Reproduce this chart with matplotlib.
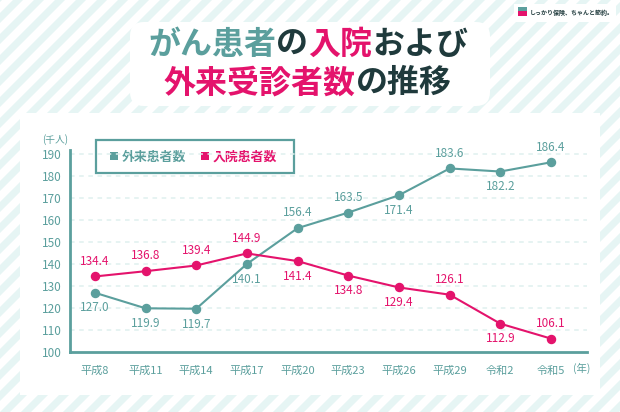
import numpy as np
import matplotlib
matplotlib.use("Agg")
import matplotlib.pyplot as plt
import matplotlib.patches as patch

plt.rcParams['font.family'] = ['Noto Sans CJK JP', 'DejaVu Sans']

years = ["平成8", "平成11", "平成14", "平成17", "平成20", "平成23",
         "平成26", "平成29", "令和2", "令和5"]
outpatient = [127.0, 119.9, 119.7, 140.1, 156.4, 163.5, 171.4, 183.6, 182.2, 186.4]
inpatient = [134.4, 136.8, 139.4, 144.9, 141.4, 134.8, 129.4, 126.1, 112.9, 106.1]
# label placement: +1 above the point, -1 below
out_pos = [-1, -1, -1, -1, 1, 1, -1, 1, -1, 1]
in_pos = [1, 1, 1, 1, -1, -1, -1, 1, -1, 1]
yticks = [100, 110, 120, 130, 140, 150, 160, 170, 180, 190]

TEAL = "#5b9f9d"
PINK = "#e4136c"
DARK = "#1f3a3c"
STRIPE = "#e6f5f4"


def main():
    fig = plt.figure(figsize=(6.2, 4.12), dpi=100)
    fig.patch.set_facecolor("white")

    # striped background over the whole figure
    bg = fig.add_axes([0, 0, 1, 1])
    bg.set_xlim(0, 620)
    bg.set_ylim(412, 0)
    bg.axis("off")
    for x0 in np.arange(-420, 640, 21):
        bg.add_patch(patch.Polygon([[x0, 412], [x0 + 10, 412],
                                    [x0 + 10 + 412, 0], [x0 + 412, 0]],
                                   closed=True, color=STRIPE, lw=0))
    # white panels
    bg.add_patch(patch.Rectangle((20, 113), 580, 282, color="white", lw=0))
    bg.add_patch(patch.FancyBboxPatch((130, 22), 360, 84,
                                      boxstyle="round,pad=0,rounding_size=14",
                                      color="white", lw=0))
    bg.add_patch(patch.Rectangle((514, 4), 102, 18, color="white", lw=0))

    # title, built from coloured pieces
    def piece_line(y, parts, size):
        widths = []
        texts = []
        for s, c in parts:
            t = bg.text(0, y, s, color=c, fontsize=size, fontweight="bold",
                        va="center", ha="left")
            texts.append(t)
        fig.canvas.draw()
        r = fig.canvas.get_renderer()
        for t in texts:
            bb = t.get_window_extent(r)
            widths.append(bb.width)
        total = sum(widths)
        x = 308 - total / 2
        for t, w in zip(texts, widths):
            t.set_x(x)
            x += w

    piece_line(45, [("がん患者", TEAL), ("の", DARK), ("入院", PINK),
                    ("および", DARK)], 23)
    piece_line(83, [("外来受診者数", PINK), ("の推移", DARK)], 23)

    # logo
    bg.add_patch(patch.Rectangle((518, 7), 9, 9, color="#e4136c", lw=0))
    bg.add_patch(patch.Rectangle((518, 7), 9, 4, color="#5b9f9d", lw=0))
    bg.text(530, 12, "しっかり保険、ちゃんと節約。", fontsize=4.3,
            fontweight="bold", color=DARK, va="center", ha="left")

    # chart
    ax = fig.add_axes([70 / 620, 60 / 412, 517 / 620, 202 / 412])
    ax.set_facecolor("none")
    x = np.arange(len(years))
    ax.set_xlim(-0.49, len(years) - 1 + 0.71)
    ax.set_ylim(100, 192)
    for yv in yticks[1:]:
        ax.axhline(yv, color="#dff0ef", lw=1.1, ls=(0, (3, 3)), zorder=0)

    ax.plot(x, outpatient, color=TEAL, lw=1.5, marker="o", ms=5.8, zorder=3)
    ax.plot(x, inpatient, color=PINK, lw=1.5, marker="o", ms=5.8, zorder=3)

    for xi, v, p in zip(x, outpatient, out_pos):
        ax.annotate("{:.1f}".format(v), (xi, v), xytext=(0, 11 * p),
                    textcoords="offset points", ha="center",
                    va="center", color=TEAL, fontsize=8.5)
    for xi, v, p in zip(x, inpatient, in_pos):
        ax.annotate("{:.1f}".format(v), (xi, v), xytext=(0, 11 * p),
                    textcoords="offset points", ha="center",
                    va="center", color=PINK, fontsize=8.5)

    ax.set_xticks(x)
    ax.set_xticklabels(years)
    ax.set_yticks(yticks)
    ax.tick_params(length=0, colors=TEAL, labelsize=8)
    ax.tick_params(axis="y", labelsize=8.5)
    ax.tick_params(axis="x", pad=10)
    ax.tick_params(axis="y", pad=6)
    for s in ["top", "right"]:
        ax.spines[s].set_visible(False)
    for s in ["left", "bottom"]:
        ax.spines[s].set_color(TEAL)
        ax.spines[s].set_linewidth(2)

    fig.text(55 / 620, 1 - 140 / 412, "(千人)", color=TEAL, fontsize=7,
             ha="center", va="center")
    fig.text(582 / 620, 1 - 368 / 412, "(年)", color=TEAL, fontsize=7.5,
             ha="center", va="center")

    # legend box
    bg.add_patch(patch.Rectangle((96, 140), 198, 33, fill=False,
                                 edgecolor=TEAL, lw=1.6))
    bg.add_patch(patch.Rectangle((110, 152), 8, 8, color=TEAL, lw=0))
    bg.text(122, 156.5, "外来患者数", color=TEAL, fontsize=9.3,
            fontweight="bold", va="center")
    bg.add_patch(patch.Rectangle((201, 152), 8, 8, color=PINK, lw=0))
    bg.text(213, 156.5, "入院患者数", color=PINK, fontsize=9.3,
            fontweight="bold", va="center")

    fig.savefig("out.png", dpi=100)


if __name__ == '__main__':
    main()
